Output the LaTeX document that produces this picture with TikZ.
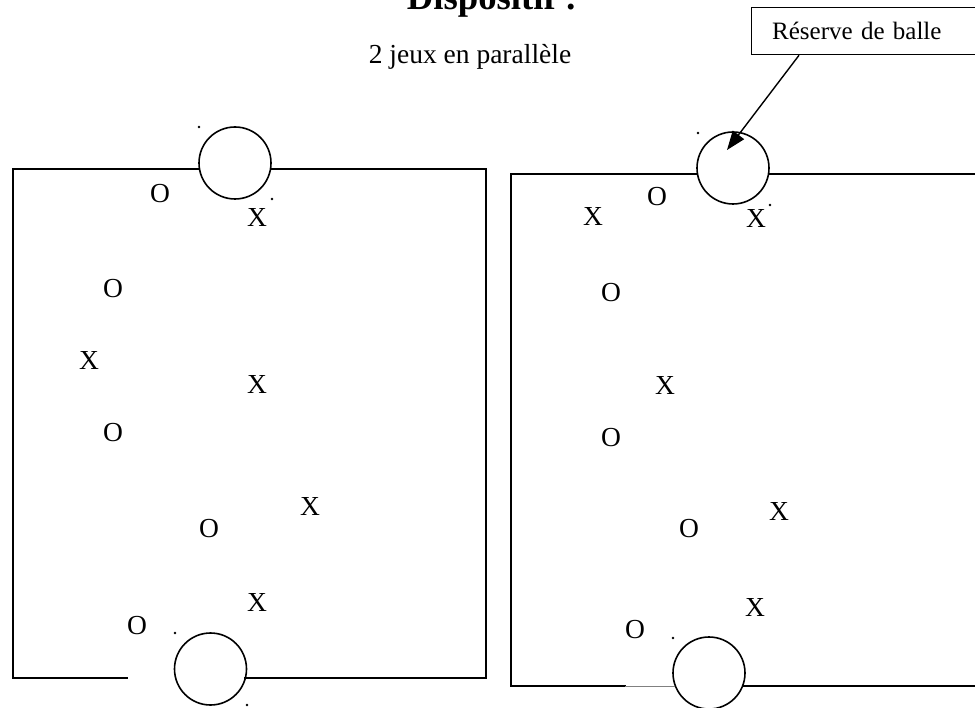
\documentclass[tikz,border=0pt]{standalone}
\usepackage{fontspec}
\setmainfont{Liberation Serif}
\usetikzlibrary{arrows.meta}
\begin{document}
\begin{tikzpicture}[x=1pt,y=-1pt,
  court/.style={line width=1.8pt,line cap=rect},
  ring/.style={circle,draw,line width=1.6pt,minimum size=72pt,inner sep=0pt},
  player/.style={inner sep=0pt,anchor=center,font=\fontsize{27.5}{30}\selectfont},
  speck/.style={fill=black},
  callout/.style={draw,line width=1.3pt,anchor=north west,minimum width=240pt,minimum height=47pt,inner sep=0pt,text width=225pt,align=left,font=\fontsize{25}{28}\selectfont},
  pointer/.style={line width=1.4pt,-{Triangle[length=19pt,width=14pt]}}]
\useasboundingbox (0,0) rectangle (975,708);
\clip (0,0) rectangle (975,708);

% titles
\node[anchor=base,inner sep=0pt,font=\fontsize{36.7}{40}\bfseries\selectfont] (title) at (492,10) {Dispositif :};
\node[anchor=base,inner sep=0pt,font=\fontsize{27.5}{30}\selectfont] (sub) at (470,64) {2 jeux en parallèle};

% left court
\node[ring] (LT) at (235,163) {};
\node[ring] (LB) at (210.5,669) {};
\draw[court] (LT.west |- 0,169) -- (13,169) -- (13,678) -- (127,678);
\draw[court] (LT.east |- 0,169) -- (486,169) -- (486,678) -- (245,678);

% right court
\node[ring] (RT) at (733,168) {};
\node[ring] (RB) at (709,673) {};
\draw[court] (RT.west |- 0,174) -- (511,174) -- (511,686) -- (625,686);
\draw[line width=0.8pt,gray] (625,686) -- (675,686);
\draw[court] (RT.east |- 0,174) -- (990,174);
\draw[court] (743,686) -- (990,686);

% specks
\foreach \p in {(199,127),(272,199),(175,633),(247,705),(698,133),(770,205),(673,638)}
  \fill[speck] \p circle (1.3pt);

% left players
\node[player] (l1) at (160,194) {O};
\node[player] (l2) at (257,217) {X};
\node[player] (l3) at (113,289) {O};
\node[player] (l4) at (89,360) {X};
\node[player] (l5) at (257,384) {X};
\node[player] (l6) at (113,433) {O};
\node[player] (l7) at (310,506) {X};
\node[player] (l8) at (209,529) {O};
\node[player] (l9) at (257,602) {X};
\node[player] (l10) at (137,626) {O};

% right players
\node[player] (r1) at (593,216) {X};
\node[player] (r2) at (657,197) {O};
\node[player] (r3) at (756,218) {X};
\node[player] (r4) at (611,293) {O};
\node[player] (r5) at (665,385) {X};
\node[player] (r6) at (611,438) {O};
\node[player] (r7) at (779,511) {X};
\node[player] (r8) at (689,529) {O};
\node[player] (r9) at (755,607) {X};
\node[player] (r10) at (635,630) {O};

% callout
\node[callout] (res) at (751,7) {\hspace*{13pt}Réserve de balle};
\coordinate (tip) at (727,150);
\draw[pointer] (res.south west -| 799,0) -- (tip);
\end{tikzpicture}
\end{document}
